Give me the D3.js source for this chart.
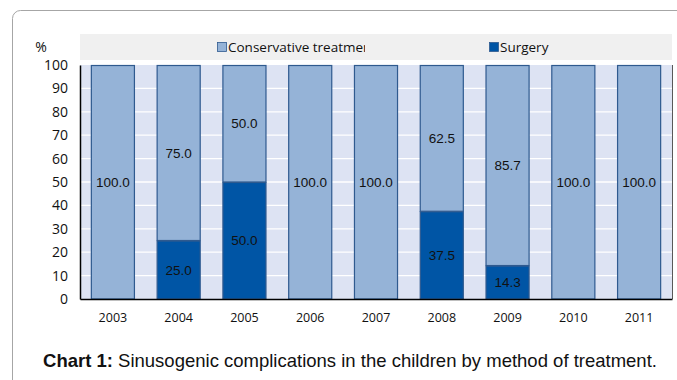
<!DOCTYPE html>
<html>
<head>
<meta charset="utf-8">
<script src="https://cdn.jsdelivr.net/npm/d3@7"></script>
<style>
  html, body { margin: 0; padding: 0; background: #fff; }
  svg { display: block; }
</style>
</head>
<body>
<svg id="chart" width="677" height="380"></svg>
<script>
// Sinusogenic complications in children, share of cases by treatment method (%)
const years = ["2003", "2004", "2005", "2006", "2007", "2008", "2009", "2010", "2011"];
const conservative = [100.0, 75.0, 50.0, 100.0, 100.0, 62.5, 85.7, 100.0, 100.0];
const surgery = [0.0, 25.0, 50.0, 0.0, 0.0, 37.5, 14.3, 0.0, 0.0];
const yTicks = [0, 10, 20, 30, 40, 50, 60, 70, 80, 90, 100];
const seriesNames = ["Conservative treatment", "Surgery"];

const colors = { conservative: "#95b3d7", surgery: "#0055a5" };

const svg = d3.select("#chart");
const plot = { left: 80, right: 672, top: 65, bottom: 299 };

// outer frame (extends past the visible area on the right and bottom)
svg.append("rect")
  .attr("x", 12.5).attr("y", 10.5)
  .attr("width", 700).attr("height", 420)
  .attr("rx", 8)
  .attr("fill", "none")
  .attr("stroke", "#a6a6a6")
  .attr("stroke-width", 1);

// legend band
svg.append("rect")
  .attr("x", plot.left).attr("y", 34)
  .attr("width", plot.right - plot.left).attr("height", 26)
  .attr("fill", "#f0f0f0");

const x = d3.scaleBand().domain(years).range([plot.left, plot.right]).paddingInner(0.33).paddingOuter(0.165);
const y = d3.scaleLinear().domain([0, 100]).range([plot.bottom, plot.top]);

// plot background
svg.append("rect")
  .attr("x", plot.left).attr("y", plot.top)
  .attr("width", plot.right - plot.left).attr("height", plot.bottom - plot.top)
  .attr("fill", "#dde3f3");

// horizontal gridlines
svg.append("g")
  .selectAll("line")
  .data(yTicks.filter(t => t > 0 && t < 100))
  .join("line")
  .attr("x1", plot.left).attr("x2", plot.right)
  .attr("y1", d => y(d)).attr("y2", d => y(d))
  .attr("stroke", "#ffffff").attr("stroke-width", 1.3);

// stacked bars: surgery at the bottom, conservative on top
const rows = years.map((yr, i) => ({ year: yr, conservative: conservative[i], surgery: surgery[i] }));
const stack = d3.stack().keys(["surgery", "conservative"]);
const layers = stack(rows);

const barG = svg.append("g");
layers.forEach(layer => {
  barG.append("g")
    .selectAll("rect")
    .data(layer.filter(d => d[1] - d[0] > 0))
    .join("rect")
    .attr("x", d => x(d.data.year) + 0.5)
    .attr("y", d => y(d[1]) + 0.5)
    .attr("width", x.bandwidth() - 1)
    .attr("height", d => y(d[0]) - y(d[1]) - 0.5)
    .attr("fill", colors[layer.key])
    .attr("stroke", "#2f5a8f")
    .attr("stroke-width", 1.2);
});

// value labels centered in each segment
const labelG = svg.append("g")
  .attr("font-family", "Liberation Sans, Arial, sans-serif")
  .attr("font-size", 13.5)
  .attr("fill", "#111")
  .attr("text-anchor", "middle");
layers.forEach(layer => {
  labelG.append("g")
    .selectAll("text")
    .data(layer.filter(d => d[1] - d[0] > 0))
    .join("text")
    .attr("x", d => x(d.data.year) + x.bandwidth() / 2)
    .attr("y", d => y((d[0] + d[1]) / 2))
    .attr("dy", "0.36em")
    .text(d => d3.format(".1f")(d.data[layer.key]));
});

// right border of the plot
svg.append("line")
  .attr("x1", plot.right + 0.5).attr("x2", plot.right + 0.5)
  .attr("y1", plot.top).attr("y2", plot.bottom)
  .attr("stroke", "#595959").attr("stroke-width", 1);

// y axis
const yAxis = svg.append("g")
  .attr("transform", `translate(${plot.left},0)`)
  .call(d3.axisLeft(y).tickValues(yTicks).tickSize(0).tickPadding(12));
yAxis.select(".domain").attr("stroke", "#000").attr("stroke-width", 1.5);
yAxis.selectAll("text")
  .attr("font-family", "Open Sans, Lato, sans-serif")
  .attr("font-size", 14)
  .attr("fill", "#111");

// x axis
const xAxis = svg.append("g")
  .attr("transform", `translate(0,${plot.bottom})`)
  .call(d3.axisBottom(x).tickSize(0).tickPadding(14));
xAxis.select(".domain").attr("stroke", "#000").attr("stroke-width", 1.5);
xAxis.selectAll("text")
  .attr("font-family", "Open Sans, Lato, sans-serif")
  .attr("font-size", 12.5)
  .attr("fill", "#111");

// unit label
svg.append("text")
  .attr("x", 41).attr("y", 52)
  .attr("text-anchor", "middle")
  .attr("font-family", "Open Sans, Lato, sans-serif")
  .attr("font-size", 14)
  .attr("fill", "#111")
  .text("%");

// legend
svg.append("defs").append("clipPath").attr("id", "legClip")
  .append("rect").attr("x", 210).attr("y", 34).attr("width", 155).attr("height", 26);

const legendItems = [
  { name: seriesNames[0], color: colors.conservative, x: 217, clip: true },
  { name: seriesNames[1], color: colors.surgery, x: 489, clip: false }
];
legendItems.forEach(item => {
  const g = svg.append("g");
  if (item.clip) g.attr("clip-path", "url(#legClip)");
  g.append("rect")
    .attr("x", item.x + 0.5).attr("y", 42.5)
    .attr("width", 9).attr("height", 9)
    .attr("fill", item.color)
    .attr("stroke", "#2f5a8f").attr("stroke-width", 0.8);
  g.append("text")
    .attr("x", item.x + 11).attr("y", 52)
    .attr("font-family", "Open Sans, Lato, sans-serif")
    .attr("font-size", 13.5)
    .attr("fill", "#111")
    .text(item.name);
});

// caption
const cap = svg.append("text")
  .attr("x", 350).attr("y", 367)
  .attr("text-anchor", "middle")
  .attr("font-family", "Liberation Sans, Arial, sans-serif")
  .attr("font-size", 18.5)
  .attr("fill", "#111");
cap.append("tspan").attr("font-weight", "bold").text("Chart 1:");
cap.append("tspan").text(" Sinusogenic complications in the children by method of treatment.");
</script>
</body>
</html>
